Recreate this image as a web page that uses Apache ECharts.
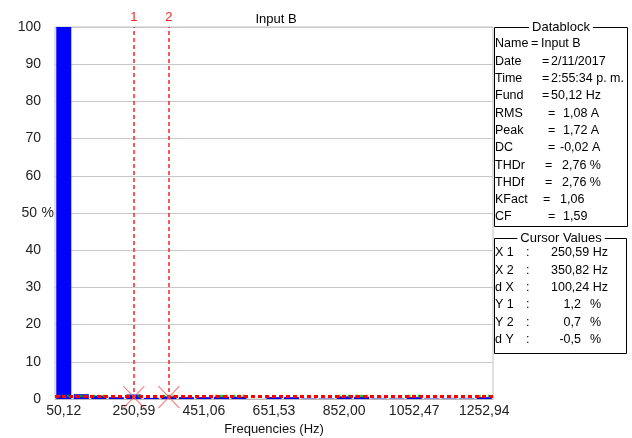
<!DOCTYPE html>
<html>
<head>
<meta charset="utf-8">
<script src="https://cdn.jsdelivr.net/npm/echarts@6/dist/echarts.min.js"></script>
<style>html,body{margin:0;padding:0;background:#fff}#c{width:632px;height:438px}</style>
</head>
<body>
<div id="c"></div>
<script>
// ---- data ----
const freqLabels = ['50,12','100,24','150,35','200,47','250,59','300,71','350,82','400,94','451,06','501,18',
  '551,29','601,41','651,53','701,65','751,76','801,88','852,00','902,12','952,24','1002,35',
  '1052,47','1102,59','1152,71','1202,82','1252,94'];
const harmonicPct = [100, 1.3, 0.9, 0.5, 1.2, 0.3, 0.7, 0.5, 0.5, 0.6, 0.6, 0, 0.5, 0.5, 0.1, 0.1, 0.7, 0.6, 0.1, 0.1, 0.5, 0.1, 0.1, 0.1, 0.5];
const greenPct = [0.8, 0.8, 0.8, null, 0.8, null, 0.8, null, null, 0.8, 0.8, null, null, null, null, null, 0.8, 0.8, null, null, 0.8, null, null, null, 0.8];
const thresholdPct = 0.8;
const cursorFreqs = ['250,59', '350,82'];
const cursorNames = ['1', '2'];
const chartTitle = 'Input B';
const xAxisName = 'Frequencies (Hz)';
const yAxisUnit = '%';
const yUnitAt = 50;
const dbLabels = ['Name','Date','Time','Fund','RMS','Peak','DC','THDr','THDf','KFact','CF'];
const dbValues = ['Input B','2/11/2017','2:55:34 p. m.','50,12 Hz','1,08 A','1,72 A','-0,02 A','2,76 %','2,76 %','1,06','1,59'];
const cvLabels = ['X 1','X 2','d X','Y 1','Y 2','d Y'];
const cvValues = ['250,59 Hz','350,82 Hz','100,24 Hz','1,2','0,7','-0,5'];

// ---- layout ----
const FONT = '"Liberation Sans", Arial, sans-serif';
const eqX  = [531, 542, 542, 542, 548, 548, 548, 545, 545, 543, 548];
const valX = [541, 551, 551, 551, 563, 563, 560, 562, 562, 560, 563];

const chart = echarts.init(document.getElementById('c'), null, {renderer: 'canvas'});

const greenData = greenPct.map((v, i) => v == null ? null : [freqLabels[i], v]).filter(Boolean);
const crossData = cursorFreqs.map(f => [f, thresholdPct - 0.3]);

function greenSeries(off) {
  return {
    type: 'scatter', data: greenData, symbol: 'rect', symbolSize: [3, 2.5],
    symbolOffset: [off, 0], itemStyle: {color: '#00b400'}, silent: true, z: 4
  };
}

const graphics = [];
// Datablock box
graphics.push({type: 'rect', shape: {x: 494.5, y: 27.5, width: 133, height: 199},
  style: {fill: 'none', stroke: '#000', lineWidth: 1}});
graphics.push({type: 'text', style: {text: 'Datablock', x: 561, y: 27, align: 'center', verticalAlign: 'middle',
  font: '13px ' + FONT, fill: '#000', backgroundColor: '#fff', padding: [0, 3]}});
dbLabels.forEach((l, i) => {
  const y = 44 + i * 17.3;
  graphics.push({type: 'text', style: {text: l, x: 495, y, verticalAlign: 'middle', font: '12.5px ' + FONT, fill: '#000'}});
  graphics.push({type: 'text', style: {text: '=', x: eqX[i], y, verticalAlign: 'middle', font: '12.5px ' + FONT, fill: '#000'}});
  graphics.push({type: 'text', style: {text: dbValues[i], x: valX[i], y, verticalAlign: 'middle', font: '12.5px ' + FONT, fill: '#000'}});
});
// Cursor values box
graphics.push({type: 'rect', shape: {x: 494.5, y: 238.5, width: 132, height: 115},
  style: {fill: 'none', stroke: '#000', lineWidth: 1}});
graphics.push({type: 'text', style: {text: 'Cursor Values', x: 561, y: 238, align: 'center', verticalAlign: 'middle',
  font: '13px ' + FONT, fill: '#000', backgroundColor: '#fff', padding: [0, 3]}});
cvLabels.forEach((l, i) => {
  const y = 253 + i * 17.3;
  graphics.push({type: 'text', style: {text: l, x: 495, y, verticalAlign: 'middle', font: '12.5px ' + FONT, fill: '#000'}});
  graphics.push({type: 'text', style: {text: ':', x: 526, y, verticalAlign: 'middle', font: '12.5px ' + FONT, fill: '#000'}});
  if (i < 3) {
    graphics.push({type: 'text', style: {text: cvValues[i], x: 608, y, align: 'right', verticalAlign: 'middle', font: '12.5px ' + FONT, fill: '#000'}});
  } else {
    graphics.push({type: 'text', style: {text: cvValues[i], x: 581, y, align: 'right', verticalAlign: 'middle', font: '12.5px ' + FONT, fill: '#000'}});
    graphics.push({type: 'text', style: {text: '%', x: 590, y, verticalAlign: 'middle', font: '12.5px ' + FONT, fill: '#000'}});
  }
});

chart.setOption({
  animation: false,
  backgroundColor: '#fff',
  title: {text: chartTitle, left: 271, top: 8, textAlign: 'center',
    textStyle: {fontFamily: FONT, fontSize: 13, fontWeight: 'normal', color: '#000'}},
  grid: {left: 55, right: 139, top: 27, bottom: 39, show: true, borderColor: '#c0c0c0', borderWidth: 1,
    containLabel: false, outerBoundsMode: 'none'},
  xAxis: {
    type: 'category', data: freqLabels,
    name: xAxisName, nameLocation: 'middle', nameGap: 24,
    nameTextStyle: {fontFamily: FONT, fontSize: 13, color: '#111'},
    axisLine: {lineStyle: {color: '#b8b8b8'}}, axisTick: {show: false},
    axisLabel: {interval: 3, margin: 5, fontFamily: FONT, fontSize: 14, color: '#222'},
    splitLine: {show: false}
  },
  yAxis: {
    type: 'value', min: 0, max: 100, interval: 10,
    axisLine: {show: false}, axisTick: {show: false},
    axisLabel: {margin: 14, fontFamily: FONT, fontSize: 14, color: '#222',
      formatter: v => v === yUnitAt ? v + ' ' : String(v)},
    splitLine: {lineStyle: {color: '#c8c8c8', width: 1}}
  },
  series: [
    {
      type: 'bar', data: harmonicPct, barWidth: 15, itemStyle: {color: '#0000ff'}, z: 2,
      markLine: {
        silent: true, symbol: ['none', 'none'], animation: false, z: 5,
        data: [
          {yAxis: thresholdPct, lineStyle: {color: '#ff0000', type: [4, 3], width: 3}, label: {show: false}},
          ...cursorFreqs.map((f, i) => ({
            xAxis: f, name: cursorNames[i],
            lineStyle: {color: '#ff2020', type: [4, 3], width: 1.5},
            label: {show: true, position: 'end', formatter: '{b}', distance: 3,
              color: '#ff2020', fontFamily: FONT, fontSize: 13}
          }))
        ]
      }
    },
    greenSeries(-5), greenSeries(0), greenSeries(5),
    {
      type: 'scatter', data: crossData, symbol: 'path://M0 0L20 22M20 0L0 22', symbolSize: [21, 22],
      itemStyle: {color: 'none', borderColor: '#ff5050', borderWidth: 1}, silent: true, z: 6
    }
  ],
  graphic: graphics
});

// y-axis unit placed next to its tick value, through the axis scale
const unitY = chart.convertToPixel({yAxisIndex: 0}, yUnitAt);
const gridLeft = chart.convertToPixel({xAxisIndex: 0}, freqLabels[0]) - 8.76;
chart.setOption({graphic: graphics.concat([{type: 'text', style: {text: yAxisUnit, x: gridLeft - 1, y: unitY,
  align: 'right', verticalAlign: 'middle', font: '14px ' + FONT, fill: '#222'}}])});
</script>
</body>
</html>
